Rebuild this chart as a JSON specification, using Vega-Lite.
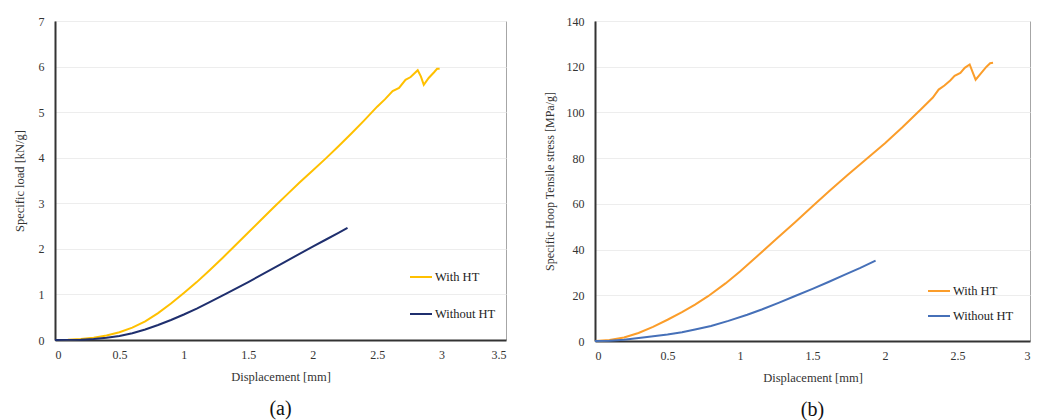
{
  "$schema": "https://vega.github.io/schema/vega-lite/v6.json",
  "background": "white",
  "padding": {"left": 12, "top": 14, "right": 0, "bottom": 0},
  "bounds": "flush",
  "spacing": 89,
  "config": {
    "font": "Liberation Serif, Times New Roman, serif",
    "view": {"stroke": "#a6a6a6", "strokeWidth": 1},
    "axis": {
      "labelFont": "Liberation Serif, Times New Roman, serif",
      "titleFont": "Liberation Serif, Times New Roman, serif",
      "labelFontSize": 12,
      "titleFontSize": 12.5,
      "titleFontWeight": "normal",
      "labelColor": "#333333",
      "titleColor": "#333333",
      "ticks": false,
      "domainColor": "#333333",
      "domainWidth": 2,
      "gridColor": "#ededed",
      "gridWidth": 1
    },
    "legend": {
      "labelFont": "Liberation Serif, Times New Roman, serif",
      "labelFontSize": 12.5,
      "labelColor": "#222222",
      "symbolType": "stroke",
      "symbolSize": 484,
      "symbolStrokeWidth": 2,
      "labelOffset": 2
    },
    "title": {"font": "Liberation Serif, Times New Roman, serif", "fontSize": 20, "fontWeight": "normal", "color": "#111111"}
  },
  "datasets": {
    "a": [
      {"d": 0, "v": 0, "s": "With HT"},
      {"d": 0.1, "v": 0.005, "s": "With HT"},
      {"d": 0.2, "v": 0.02, "s": "With HT"},
      {"d": 0.3, "v": 0.05, "s": "With HT"},
      {"d": 0.4, "v": 0.1, "s": "With HT"},
      {"d": 0.5, "v": 0.17, "s": "With HT"},
      {"d": 0.6, "v": 0.27, "s": "With HT"},
      {"d": 0.7, "v": 0.41, "s": "With HT"},
      {"d": 0.8, "v": 0.59, "s": "With HT"},
      {"d": 0.9, "v": 0.8, "s": "With HT"},
      {"d": 1.0, "v": 1.03, "s": "With HT"},
      {"d": 1.1, "v": 1.27, "s": "With HT"},
      {"d": 1.2, "v": 1.53, "s": "With HT"},
      {"d": 1.3, "v": 1.8, "s": "With HT"},
      {"d": 1.4, "v": 2.08, "s": "With HT"},
      {"d": 1.5, "v": 2.36, "s": "With HT"},
      {"d": 1.6, "v": 2.64, "s": "With HT"},
      {"d": 1.7, "v": 2.92, "s": "With HT"},
      {"d": 1.8, "v": 3.19, "s": "With HT"},
      {"d": 1.9, "v": 3.46, "s": "With HT"},
      {"d": 2.0, "v": 3.72, "s": "With HT"},
      {"d": 2.1, "v": 3.98, "s": "With HT"},
      {"d": 2.2, "v": 4.25, "s": "With HT"},
      {"d": 2.3, "v": 4.53, "s": "With HT"},
      {"d": 2.4, "v": 4.82, "s": "With HT"},
      {"d": 2.5, "v": 5.12, "s": "With HT"},
      {"d": 2.56, "v": 5.28, "s": "With HT"},
      {"d": 2.62, "v": 5.46, "s": "With HT"},
      {"d": 2.67, "v": 5.53, "s": "With HT"},
      {"d": 2.72, "v": 5.71, "s": "With HT"},
      {"d": 2.76, "v": 5.77, "s": "With HT"},
      {"d": 2.815, "v": 5.92, "s": "With HT"},
      {"d": 2.84, "v": 5.78, "s": "With HT"},
      {"d": 2.862, "v": 5.6, "s": "With HT"},
      {"d": 2.9, "v": 5.75, "s": "With HT"},
      {"d": 2.94, "v": 5.87, "s": "With HT"},
      {"d": 2.965, "v": 5.95, "s": "With HT"},
      {"d": 2.985, "v": 5.95, "s": "With HT"},
      {"d": 0, "v": 0, "s": "Without HT"},
      {"d": 0.2, "v": 0.005, "s": "Without HT"},
      {"d": 0.3, "v": 0.02, "s": "Without HT"},
      {"d": 0.4, "v": 0.05, "s": "Without HT"},
      {"d": 0.5, "v": 0.09, "s": "Without HT"},
      {"d": 0.6, "v": 0.15, "s": "Without HT"},
      {"d": 0.7, "v": 0.23, "s": "Without HT"},
      {"d": 0.8, "v": 0.33, "s": "Without HT"},
      {"d": 0.9, "v": 0.44, "s": "Without HT"},
      {"d": 1.0, "v": 0.56, "s": "Without HT"},
      {"d": 1.1, "v": 0.69, "s": "Without HT"},
      {"d": 1.2, "v": 0.83, "s": "Without HT"},
      {"d": 1.325, "v": 1.01, "s": "Without HT"},
      {"d": 1.5, "v": 1.27, "s": "Without HT"},
      {"d": 1.75, "v": 1.66, "s": "Without HT"},
      {"d": 2.0, "v": 2.05, "s": "Without HT"},
      {"d": 2.1, "v": 2.2, "s": "Without HT"},
      {"d": 2.2, "v": 2.35, "s": "Without HT"},
      {"d": 2.27, "v": 2.46, "s": "Without HT"}
    ],
    "b": [
      {"d": 0, "v": 0, "s": "With HT"},
      {"d": 0.1, "v": 0.4, "s": "With HT"},
      {"d": 0.2, "v": 1.5, "s": "With HT"},
      {"d": 0.3, "v": 3.5, "s": "With HT"},
      {"d": 0.4, "v": 6.2, "s": "With HT"},
      {"d": 0.5, "v": 9.3, "s": "With HT"},
      {"d": 0.6, "v": 12.6, "s": "With HT"},
      {"d": 0.69, "v": 15.9, "s": "With HT"},
      {"d": 0.78, "v": 19.6, "s": "With HT"},
      {"d": 0.9, "v": 25.2, "s": "With HT"},
      {"d": 1.0, "v": 30.4, "s": "With HT"},
      {"d": 1.12, "v": 37.2, "s": "With HT"},
      {"d": 1.25, "v": 44.6, "s": "With HT"},
      {"d": 1.38, "v": 52.0, "s": "With HT"},
      {"d": 1.5, "v": 59.0, "s": "With HT"},
      {"d": 1.62, "v": 65.8, "s": "With HT"},
      {"d": 1.74, "v": 72.5, "s": "With HT"},
      {"d": 1.87, "v": 79.5, "s": "With HT"},
      {"d": 2.0, "v": 86.5, "s": "With HT"},
      {"d": 2.12, "v": 93.5, "s": "With HT"},
      {"d": 2.25, "v": 101.5, "s": "With HT"},
      {"d": 2.33, "v": 106.5, "s": "With HT"},
      {"d": 2.37, "v": 110, "s": "With HT"},
      {"d": 2.41, "v": 111.8, "s": "With HT"},
      {"d": 2.45, "v": 114, "s": "With HT"},
      {"d": 2.48, "v": 116, "s": "With HT"},
      {"d": 2.52, "v": 117.3, "s": "With HT"},
      {"d": 2.55, "v": 119.5, "s": "With HT"},
      {"d": 2.584, "v": 121, "s": "With HT"},
      {"d": 2.605, "v": 117.5, "s": "With HT"},
      {"d": 2.625, "v": 114.3, "s": "With HT"},
      {"d": 2.66, "v": 117, "s": "With HT"},
      {"d": 2.7, "v": 120, "s": "With HT"},
      {"d": 2.725, "v": 121.5, "s": "With HT"},
      {"d": 2.745, "v": 121.7, "s": "With HT"},
      {"d": 0, "v": 0, "s": "Without HT"},
      {"d": 0.1, "v": 0.1, "s": "Without HT"},
      {"d": 0.2, "v": 0.5, "s": "Without HT"},
      {"d": 0.345, "v": 1.6, "s": "Without HT"},
      {"d": 0.5, "v": 2.8, "s": "Without HT"},
      {"d": 0.6, "v": 3.8, "s": "Without HT"},
      {"d": 0.69, "v": 5.0, "s": "Without HT"},
      {"d": 0.8, "v": 6.6, "s": "Without HT"},
      {"d": 0.92, "v": 8.8, "s": "Without HT"},
      {"d": 1.05, "v": 11.5, "s": "Without HT"},
      {"d": 1.15, "v": 13.8, "s": "Without HT"},
      {"d": 1.27, "v": 16.8, "s": "Without HT"},
      {"d": 1.38, "v": 19.7, "s": "Without HT"},
      {"d": 1.5, "v": 22.8, "s": "Without HT"},
      {"d": 1.61, "v": 25.8, "s": "Without HT"},
      {"d": 1.72, "v": 28.9, "s": "Without HT"},
      {"d": 1.83, "v": 32.0, "s": "Without HT"},
      {"d": 1.935, "v": 35.2, "s": "Without HT"}
    ]
  },
  "resolve": {"scale": {"color": "independent"}, "legend": {"color": "independent"}},
  "hconcat": [
    {
      "width": 451,
      "height": 319,
      "data": {"name": "a"},
      "title": {"text": "(a)", "orient": "bottom", "offset": 16},
      "mark": {"type": "line", "strokeWidth": 2},
      "encoding": {
        "x": {
          "field": "d", "type": "quantitative",
          "scale": {"domain": [0, 3.5], "nice": false},
          "axis": {"title": "Displacement [mm]", "values": [0, 0.5, 1, 1.5, 2, 2.5, 3, 3.5], "format": "~g", "grid": false, "labelPadding": 9, "titlePadding": 10}
        },
        "y": {
          "field": "v", "type": "quantitative",
          "scale": {"domain": [0, 7], "nice": false},
          "axis": {"title": "Specific load [kN/g]", "values": [0, 1, 2, 3, 4, 5, 6, 7], "format": "d", "grid": true, "labelPadding": 11, "titlePadding": 12}
        },
        "color": {
          "field": "s", "type": "nominal",
          "scale": {"domain": ["With HT", "Without HT"], "range": ["#ffc000", "#1f2f6e"]},
          "legend": {"title": null, "orient": "none", "legendX": 354, "legendY": 244, "rowPadding": 18}
        }
      }
    },
    {
      "width": 435,
      "height": 320,
      "data": {"name": "b"},
      "title": {"text": "(b)", "orient": "bottom", "offset": 16},
      "mark": {"type": "line", "strokeWidth": 2},
      "encoding": {
        "x": {
          "field": "d", "type": "quantitative",
          "scale": {"domain": [0, 3], "nice": false},
          "axis": {"title": "Displacement [mm]", "values": [0, 0.5, 1, 1.5, 2, 2.5, 3], "format": "~g", "grid": false, "labelPadding": 9, "titlePadding": 10}
        },
        "y": {
          "field": "v", "type": "quantitative",
          "scale": {"domain": [0, 140], "nice": false},
          "axis": {"title": "Specific Hoop Tensile stress [MPa/g]", "titleFontSize": 12, "values": [0, 20, 40, 60, 80, 100, 120, 140], "format": "d", "grid": true, "labelPadding": 11, "titlePadding": 10}
        },
        "color": {
          "field": "s", "type": "nominal",
          "scale": {"domain": ["With HT", "Without HT"], "range": ["#fb9d2a", "#4670b8"]},
          "legend": {"title": null, "orient": "none", "legendX": 332, "legendY": 258, "rowPadding": 6}
        }
      }
    }
  ]
}
